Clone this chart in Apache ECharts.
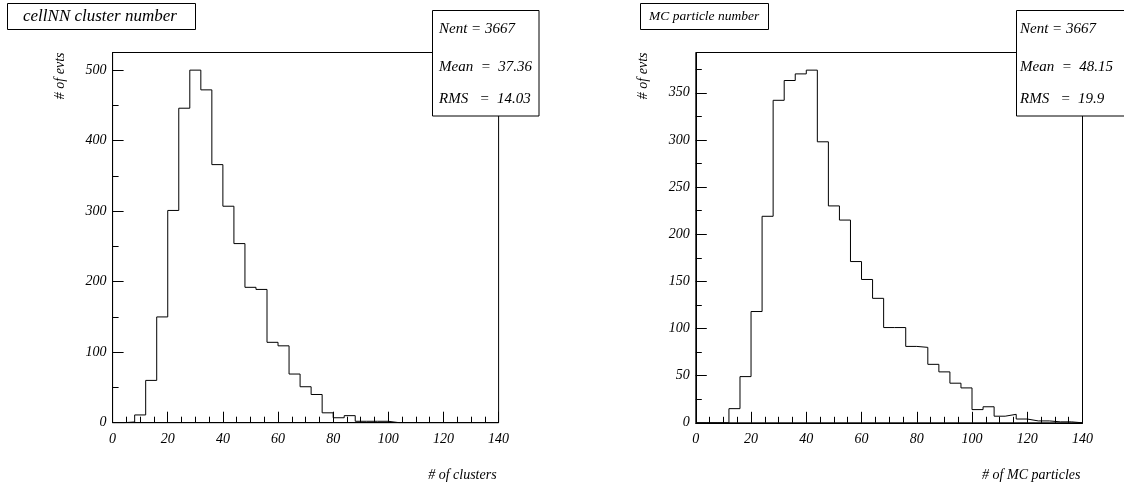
<!DOCTYPE html>
<html>
<head>
<meta charset="utf-8">
<script src="https://cdn.jsdelivr.net/npm/echarts@6/dist/echarts.min.js"></script>
<style>
html,body{margin:0;padding:0;background:#fff;}
#chart{width:1124px;height:489px;}
</style>
</head>
<body>
<div id="chart"></div>
<script>
// ---- data ----
const binWidth = 4;
const xMin = 0, xMax = 140;
// cellNN cluster number: counts per 4-wide bin from 0 to 140
const clusterCounts = [0, 1, 11, 60, 150, 301, 446, 500, 472, 366, 307, 254, 192, 189, 114, 109, 69, 51, 40, 14, 7, 10, 2, 2, 2, 0, 0, 0, 0, 0, 0, 0, 0, 0, 0];
// MC particle number: counts per 4-wide bin from 0 to 140
const mcCounts = [0, 0, 0, 15, 49, 118, 219, 342, 363, 370, 374, 298, 230, 215, 171, 152, 132, 101, 101, 81, 80, 62, 54, 42, 37, 14, 17, 7, 9, 4, 2, 2, 1, 1, 0];
const titles = ['cellNN cluster number', 'MC particle number'];
const xNames = ['# of clusters', '# of MC particles'];
const yName = '# of evts';
const stats1 = ['Nent = 3667', 'Mean  =  37.36', 'RMS   =  14.03'];
const stats2 = ['Nent = 3667', 'Mean  =  48.15', 'RMS   =  19.9'];

function stepPoints(counts) {
  const pts = counts.map((c, i) => [xMin + i * binWidth, c]);
  pts.push([xMax, counts[counts.length - 1]]);
  return pts;
}

const FONT = '"Liberation Serif", "Times New Roman", serif';
const labelStyle = {color: '#000', fontFamily: FONT, fontStyle: 'italic', fontSize: 14};

const grids = [
  {left: 112.6, top: 52.5, width: 386, height: 370.2},
  {left: 695.8, top: 52.5, width: 386.7, height: 370.3}
];
const yMaxes = [1.05 * Math.max(...clusterCounts), 1.05 * Math.max(...mcCounts)];
const yMajor = [100, 50];

const xAxes = [], yAxes = [];
for (let g = 0; g < 2; g++) {
  xAxes.push({
    type: 'value', gridIndex: g, position: 'bottom', min: xMin, max: xMax, interval: 20,
    name: xNames[g], nameLocation: 'end', nameGap: -2, nameMoveOverlap: false,
    nameTextStyle: Object.assign({}, labelStyle, {align: 'right', verticalAlign: 'top', padding: [46, 0, 0, 0]}),
    axisLine: {show: true, onZero: false, lineStyle: {color: '#000', width: 1}},
    axisTick: {show: true, inside: true, length: 11, lineStyle: {color: '#000'}},
    minorTick: {show: true, splitNumber: 4, length: 6, lineStyle: {color: '#000'}},
    axisLabel: Object.assign({}, labelStyle, {margin: 10}),
    splitLine: {show: false}
  });
  // labelled axis with major ticks
  yAxes.push({
    type: 'value', gridIndex: g, position: 'left', offset: 0, min: 0, max: yMaxes[g], interval: yMajor[g],
    name: yName, nameLocation: 'end', nameRotate: 90, nameGap: 0, nameMoveOverlap: false,
    nameTextStyle: Object.assign({}, labelStyle, {align: 'right', verticalAlign: 'bottom', padding: [0, 0, 45, 0]}),
    axisLine: {show: true, onZero: false, lineStyle: {color: '#000', width: 1}},
    axisTick: {show: true, inside: true, length: 11, lineStyle: {color: '#000', width: 1}},
    axisLabel: Object.assign({}, labelStyle, {margin: 6, showMaxLabel: false, inside: false}),
    splitLine: {show: false}
  });
  // minor ticks axis (half of major interval)
  yAxes.push({
    type: 'value', gridIndex: g, position: 'left', offset: 0, min: 0, max: yMaxes[g], interval: yMajor[g] / 2,
    axisLine: {show: false, onZero: false},
    axisTick: {show: true, inside: true, length: 6, lineStyle: {color: '#000', width: 1}},
    axisLabel: {show: false},
    splitLine: {show: false}
  });
}

const series = [
  {type: 'line', xAxisIndex: 0, yAxisIndex: 0, step: 'end', data: stepPoints(clusterCounts),
   showSymbol: false, symbol: 'none', lineStyle: {color: '#000', width: 1}, z: 3},
  {type: 'line', xAxisIndex: 1, yAxisIndex: 2, step: 'end', data: stepPoints(mcCounts),
   showSymbol: false, symbol: 'none', lineStyle: {color: '#000', width: 1}, z: 3}
];

function boxText(x, y, text, size) {
  return {type: 'text', x: x, y: y, z: 101,
    style: {text: text, font: 'italic ' + size + 'px ' + FONT, fill: '#000', textAlign: 'left', textVerticalAlign: 'middle'}};
}
function box(x, y, w, h) {
  return {type: 'rect', z: 100, shape: {x: x, y: y, width: w, height: h},
    style: {fill: '#fff', stroke: '#000', lineWidth: 1}};
}

const graphic = [
  box(7.5, 3.5, 188, 26), boxText(23, 16.5, titles[0], 17),
  box(640.5, 3.5, 128, 26), boxText(649, 16.5, titles[1], 13.5),
  box(432.5, 10.5, 106.5, 105.5),
  boxText(439, 29, stats1[0], 15), boxText(439, 67, stats1[1], 15), boxText(439, 99, stats1[2], 15),
  box(1016.5, 10.5, 120, 105.5),
  boxText(1020, 29, stats2[0], 15), boxText(1020, 67, stats2[1], 15), boxText(1020, 99, stats2[2], 15)
];

const chart = echarts.init(document.getElementById('chart'), null, {renderer: 'canvas'});
chart.setOption({
  animation: false,
  backgroundColor: '#fff',
  grid: grids.map(g => Object.assign({show: true, borderColor: '#000', borderWidth: 1, backgroundColor: 'transparent', containLabel: false, outerBoundsMode: 'none'}, g)),
  xAxis: xAxes,
  yAxis: yAxes,
  series: series,
  graphic: graphic
});
</script>
</body>
</html>
